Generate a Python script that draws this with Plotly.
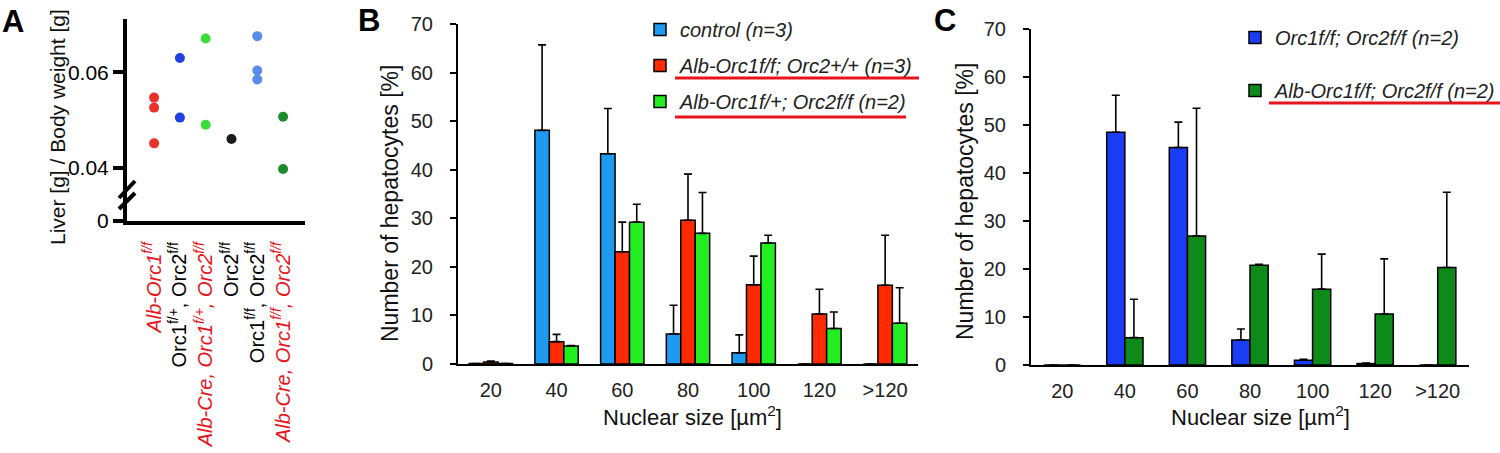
import plotly.graph_objects as go

W = 1500
H = 453
fuente = 'Liberation Sans, Arial, sans-serif'

# panel A: liver / body weight, one list per genotype
catA = [0, 1, 2, 3, 4, 5]
labelsA = ['<i>Alb-Orc1<sup>f/f</sup></i>',
           'Orc1<sup>f/+</sup>, Orc2<sup>f/f</sup>',
           '<i>Alb-Cre, Orc1<sup>f/+</sup>, Orc2<sup>f/f</sup></i>',
           'Orc2<sup>f/f</sup>',
           'Orc1<sup>f/f</sup>, Orc2<sup>f/f</sup>',
           '<i>Alb-Cre, Orc1<sup>f/f</sup>, Orc2<sup>f/f</sup></i>']
labelColorsA = ['#e8141c', '#000000', '#e8141c', '#000000', '#000000', '#e8141c']
ratioAlbOrc1 = [0.0547, 0.0526, 0.0451]
ratioOrc1hetOrc2 = [0.0630, 0.0505]
ratioAlbCreOrc1hetOrc2 = [0.0671, 0.0490]
ratioOrc2 = [0.0460]
ratioOrc1Orc2 = [0.0676, 0.0604, 0.0585]
ratioAlbCreOrc1Orc2 = [0.0507, 0.0397]
dotColorsA = ['#e8322a', '#2040e0', '#3ddc3d', '#1a1a1a', '#5a8de8', '#1e8a2e']
breakA = 0.0288  # el "0" del eje cortado
yTicksA = [breakA, 0.04, 0.06]
yTickTextA = ['0', '0.04', '0.06']

# panel B: nuclear size distribution
sizes = ['20', '40', '60', '80', '100', '120', '>120']
controlB = [0.1, 48.1, 43.3, 6.2, 2.3, 0, 0]
controlBsd = [0, 17.6, 9.3, 5.9, 3.7, 0, 0]
orc1ffB = [0.4, 4.6, 23.1, 29.6, 16.3, 10.3, 16.2]
orc1ffBsd = [0.2, 1.5, 6.1, 9.5, 5.9, 5.1, 10.3]
orc2ffB = [0.1, 3.7, 29.2, 26.9, 24.9, 7.3, 8.4]
orc2ffBsd = [0, 0.1, 3.7, 8.4, 1.6, 3.4, 7.3]
namesB = ['control (n=3)', 'Alb-Orc1f/f; Orc2+/+ (n=3)', 'Alb-Orc1f/+; Orc2f/f (n=2)']

# panel C
ctrlC = [0, 48.5, 45.3, 5.2, 1.0, 0.3, 0]
ctrlCsd = [0, 7.7, 5.3, 2.3, 0.2, 0.1, 0]
dkoC = [0, 5.7, 26.9, 20.8, 15.8, 10.6, 20.3]
dkoCsd = [0, 8.0, 26.6, 0.2, 7.3, 11.5, 15.7]
namesC = ['Orc1f/f; Orc2f/f (n=2)', 'Alb-Orc1f/f; Orc2f/f (n=2)']


def pxX(x):
    return x / W


def pxY(y):
    return 1 - y / H


fig = go.Figure()

#------------------------------------------------------------------------------ A
gruposA = [ratioAlbOrc1, ratioOrc1hetOrc2, ratioAlbCreOrc1hetOrc2, ratioOrc2, ratioOrc1Orc2, ratioAlbCreOrc1Orc2]
for i, vals in enumerate(gruposA):
    fig.add_trace(go.Scatter(x=[catA[i]] * len(vals), y=vals, mode='markers', showlegend=False,
                             marker=dict(size=10, color=dotColorsA[i]), xaxis='x', yaxis='y'))

ticktextA = ['<span style="color:%s">%s</span>' % (c, t) for t, c in zip(labelsA, labelColorsA)]

#------------------------------------------------------------------------------ B
barW = 0.22
coloresB = ['#1e9bf0', '#ff2a00', '#22ee22']
for k, (vals, sd) in enumerate([(controlB, controlBsd), (orc1ffB, orc1ffBsd), (orc2ffB, orc2ffBsd)]):
    fig.add_trace(go.Bar(x=sizes, y=vals, name='<i>%s</i>' % namesB[k], width=barW, offset=(k - 1.5) * barW,
                         marker=dict(color=coloresB[k], line=dict(color='black', width=1.5)),
                         error_y=dict(type='data', symmetric=False, array=sd, arrayminus=[0] * len(sd),
                                      color='black', thickness=1.6, width=4),
                         xaxis='x2', yaxis='y2', legend='legend', legendgroup='b%d' % k))

#------------------------------------------------------------------------------ C
barWc = 0.29
coloresC = ['#1a3cf5', '#0d8a1a']
for k, (vals, sd) in enumerate([(ctrlC, ctrlCsd), (dkoC, dkoCsd)]):
    fig.add_trace(go.Bar(x=sizes, y=vals, name='<i>%s</i>' % namesC[k], width=barWc, offset=(k - 1) * barWc,
                         marker=dict(color=coloresC[k], line=dict(color='black', width=1.5)),
                         error_y=dict(type='data', symmetric=False, array=sd, arrayminus=[0] * len(sd),
                                      color='black', thickness=1.6, width=4),
                         xaxis='x3', yaxis='y3', legend='legend2', legendgroup='c%d' % k))

ejeBar = dict(showline=True, linecolor='black', linewidth=2, showgrid=False, zeroline=False)
tickFont = dict(family=fuente, size=20, color='#222222')

fig.update_layout(
    width=W, height=H, margin=dict(l=0, r=0, t=0, b=0, autoexpand=False),
    paper_bgcolor='white', plot_bgcolor='white', barmode='overlay',
    font=dict(family=fuente, color='black'),
    xaxis=dict(domain=[pxX(127), pxX(305)], range=[-1.05, 5.85], tickvals=catA, ticktext=ticktextA,
               tickangle=-90, showline=True, linecolor='black', linewidth=4, showgrid=False, zeroline=False,
               ticks='', ticklabelstandoff=9, tickfont=dict(family=fuente, size=20, color='black')),
    yaxis=dict(domain=[pxY(221), pxY(19)], range=[breakA, 0.0712], tickvals=yTicksA, ticktext=yTickTextA,
               showline=True, linecolor='black', linewidth=4, ticks='outside', ticklen=10, tickwidth=4,
               tickcolor='black', showgrid=False, zeroline=False,
               tickfont=dict(family=fuente, size=21, color='black')),
    xaxis2=dict(domain=[pxX(458), pxX(918)], range=[-0.5, 6.5], ticks='', ticklabelstandoff=7,
                tickfont=dict(family=fuente, size=20, color='#222222'), anchor='y2', **ejeBar),
    yaxis2=dict(domain=[pxY(364), pxY(24)], range=[0, 70], dtick=10, ticks='outside', ticklen=6,
                tickwidth=2, tickcolor='black', ticklabelstandoff=13, tickfont=tickFont, anchor='x2', **ejeBar),
    xaxis3=dict(domain=[pxX(1031), pxX(1469)], range=[-0.5, 6.5], ticks='', ticklabelstandoff=7,
                tickfont=dict(family=fuente, size=20, color='#222222'), anchor='y3', **ejeBar),
    yaxis3=dict(domain=[pxY(365), pxY(29)], range=[0, 70], dtick=10, ticks='outside', ticklen=6,
                tickwidth=2, tickcolor='black', ticklabelstandoff=13, tickfont=tickFont, anchor='x3', **ejeBar),
    legend=dict(x=pxX(640), y=pxY(10), xanchor='left', yanchor='top', traceorder='grouped',
                tracegroupgap=7, bgcolor='rgba(0,0,0,0)', font=dict(family=fuente, size=20, color='#222222')),
    legend2=dict(x=pxX(1235), y=pxY(18), xanchor='left', yanchor='top', traceorder='grouped',
                 tracegroupgap=24, bgcolor='rgba(0,0,0,0)', font=dict(family=fuente, size=20, color='#222222')),
)

# titulos de ejes y letras de panel
notas = [
    dict(text='Liver [g] / Body weight [g]', x=pxX(57), y=pxY(127), textangle=-90, size=21),
    dict(text='Number of hepatocytes [%]', x=pxX(390), y=pxY(204), textangle=-90, size=23),
    dict(text='Nuclear size [µm<sup>2</sup>]', x=pxX(692), y=pxY(416), textangle=0, size=22),
    dict(text='Number of hepatocytes [%]', x=pxX(965), y=pxY(202), textangle=-90, size=23),
    dict(text='Nuclear size [µm<sup>2</sup>]', x=pxX(1260), y=pxY(416), textangle=0, size=22),
]
for n in notas:
    fig.add_annotation(text=n['text'], x=n['x'], y=n['y'], xref='paper', yref='paper', showarrow=False,
                       textangle=n['textangle'], xanchor='center', yanchor='middle',
                       font=dict(family=fuente, size=n['size'], color='#111111'))
for letra, lx, ly in [('A', 13, 21), ('B', 369, 20), ('C', 945, 20)]:
    fig.add_annotation(text='<b>%s</b>' % letra, x=pxX(lx), y=pxY(ly), xref='paper', yref='paper',
                       showarrow=False, xanchor='center', yanchor='middle',
                       font=dict(family=fuente, size=31, color='black'))

# corte del eje en A
for y0, y1 in [(198, 181), (209, 193)]:
    fig.add_shape(type='line', xref='paper', yref='paper', x0=pxX(119), x1=pxX(135), y0=pxY(y0), y1=pxY(y1),
                  line=dict(color='black', width=4))

# subrayados rojos de la leyenda
for x0, x1, yy in [(675, 919, 78), (675, 906, 117), (1269, 1500, 103)]:
    fig.add_shape(type='line', xref='paper', yref='paper', x0=pxX(x0), x1=pxX(x1), y0=pxY(yy), y1=pxY(yy),
                  line=dict(color='#e8141c', width=3))

# sin margen del body para que la figura llene la ventana
fig.write_html("out.html", config={'displayModeBar': False},
               post_script="document.body.style.margin='0px';")
